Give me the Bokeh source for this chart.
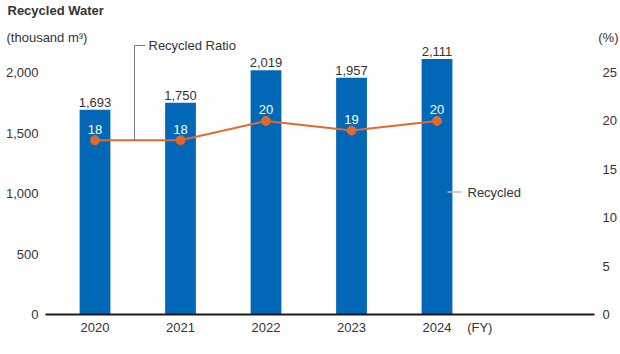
from bokeh.plotting import figure
from bokeh.models import (Range1d, LinearAxis, FixedTicker, NumeralTickFormatter,
                          ColumnDataSource, LabelSet, Label)
from bokeh.core.properties import value
from bokeh.embed import file_html
from bokeh.resources import INLINE

# ---- data ----
years = ["2020", "2021", "2022", "2023", "2024"]
recycled = [1693, 1750, 2019, 1957, 2111]          # thousand m3
ratio = [18.0, 18.0, 20.0, 19.0, 20.0]             # %
recycled_labels = ["1,693", "1,750", "2,019", "1,957", "2,111"]
ratio_labels = ["18", "18", "20", "19", "20"]
left_ticks = [0, 500, 1000, 1500, 2000]
right_ticks = [0, 5, 10, 15, 20, 25]

# ---- geometry ----
W, H = 620, 354
FL, FR, FT, FB = 45, 600, 30, 314          # frame edges in px (top = two title rows)
X0, X1 = -0.579, 5.912
PX_PER_UNIT = 0.121                        # px per thousand m3
Y1 = (FB - FT) / PX_PER_UNIT
RATIO_SCALE = 80.0

def px2x(px):
    return X0 + (px - FL) * (X1 - X0) / (FR - FL)

def py2y(py):
    return (FB - py) / PX_PER_UNIT

FONT = "Liberation Sans"
TXT = "#333333"
BLUE = "#0068b7"
ORANGE = "#e0692e"

p = figure(width=W, height=H,
           min_border_left=FL, min_border_right=W - FR, min_border_top=0,
           min_border_bottom=H - FB, x_range=Range1d(X0, X1), y_range=Range1d(0, Y1),
           output_backend="svg", toolbar_location=None, y_axis_location=None,
           x_axis_location=None)
p.outline_line_color = None
p.grid.visible = False
p.background_fill_color = "white"
p.border_fill_color = "white"
p.extra_y_ranges = {"ratio": Range1d(0, Y1 / RATIO_SCALE)}

xs = list(range(len(years)))
src = ColumnDataSource(dict(x=xs, rec=recycled, ratio=ratio,
                            rl=recycled_labels, tl=ratio_labels))

def style_axis(ax, standoff):
    ax.major_tick_line_color = None
    ax.minor_tick_line_color = None
    ax.major_tick_out = 0
    ax.major_tick_in = 0
    ax.minor_tick_out = 0
    ax.minor_tick_in = 0
    ax.major_label_standoff = standoff
    ax.major_label_text_font = FONT
    ax.major_label_text_font_size = "13px"
    ax.major_label_text_color = TXT

# axes
xax = LinearAxis(ticker=FixedTicker(ticks=xs + [4.5]), bounds=(X0, px2x(594)))
xax.major_label_overrides = {**{i: y for i, y in enumerate(years)}, 4.5: "(FY)"}
style_axis(xax, 5)
xax.axis_line_color = "#231815"
xax.axis_line_width = 2
p.add_layout(xax, "below")

lax = LinearAxis(ticker=FixedTicker(ticks=left_ticks),
                 formatter=NumeralTickFormatter(format="0,0"))
style_axis(lax, 7)
lax.axis_line_color = None
p.add_layout(lax, "left")

rax = LinearAxis(y_range_name="ratio", ticker=FixedTicker(ticks=right_ticks))
style_axis(rax, 2)
rax.axis_line_color = None
p.add_layout(rax, "right")

# bars
p.vbar(x="x", top="rec", width=0.36, source=src, fill_color=BLUE, line_color=None)

# ratio line
p.line(x="x", y="ratio", source=src, y_range_name="ratio", line_color=ORANGE, line_width=2)
p.scatter(x="x", y="ratio", source=src, y_range_name="ratio", size=9,
          fill_color=ORANGE, line_color=ORANGE)

# value labels
p.add_layout(LabelSet(x="x", y="rec", text="rl", source=src, y_offset=3,
                      text_align="center", text_baseline="bottom",
                      text_font=value(FONT), text_font_size=value("13px"), text_color=TXT))
p.add_layout(LabelSet(x="x", y="ratio", text="tl", source=src, y_range_name="ratio",
                      y_offset=11, text_align="center", text_baseline="middle",
                      text_font=value(FONT), text_font_size=value("13px"),
                      text_color="white"))

# callouts
cx = px2x(134)
p.segment(x0=[cx, cx], y0=[py2y(45), py2y(45)], x1=[cx, px2x(145)], y1=[py2y(140), py2y(45)],
          line_color="#7a7a7a", line_width=1)
p.add_layout(Label(x=px2x(148), y=py2y(45), text="Recycled Ratio", text_baseline="middle",
                   text_font=FONT, text_font_size="13px", text_color=TXT))
p.segment(x0=[px2x(447)], y0=[py2y(191.5)], x1=[px2x(461)], y1=[py2y(191.5)],
          line_color="#bbbbbb", line_width=1.5)
p.add_layout(Label(x=px2x(467), y=py2y(191.5), text="Recycled", text_baseline="middle",
                   text_font=FONT, text_font_size="13px", text_color=TXT))

# titles (placed in side panels so they are not clipped to the frame)
p.add_layout(Label(x=px2x(7), y=py2y(10), text="Recycled Water", text_baseline="middle",
                   text_font=FONT, text_font_size="13px", text_font_style="bold",
                   text_color=TXT), "above")
p.add_layout(Label(x=px2x(6), y=py2y(37), text="(thousand m³)", text_baseline="middle",
                   text_font=FONT, text_font_size="13px", text_color=TXT), "above")
p.add_layout(Label(x=px2x(618), y=py2y(37), text="(%)", text_baseline="middle",
                   text_align="right",
                   text_font=FONT, text_font_size="13px", text_color=TXT), "below")

open("out.html", "w").write(file_html(p, INLINE))
